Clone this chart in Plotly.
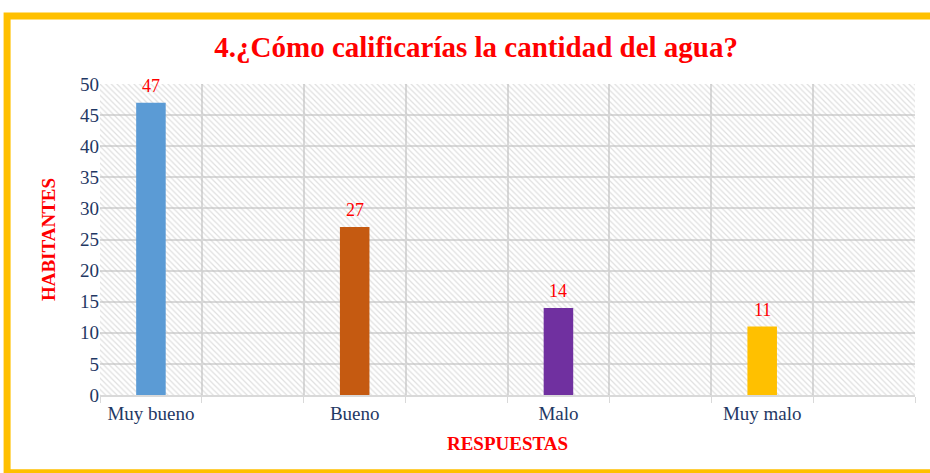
import plotly.graph_objects as go

# Datos de la encuesta
categorias = ["Muy bueno", "Bueno", "Malo", "Muy malo"]
habitantes = [47, 27, 14, 11]
colores = ["#5b9bd5", "#c55a11", "#7030a0", "#ffc000"]
y_ticks = [0, 5, 10, 15, 20, 25, 30, 35, 40, 45, 50]

Y_MAX = 50
SERIF = "Liberation Serif, Times New Roman, serif"

# cada respuesta ocupa un hueco, seguido de un hueco vacio (como en Excel)
slots, vals, cols = [], [], []
for i, (c, v, col) in enumerate(zip(categorias, habitantes, colores)):
    slots += [c, " " * (i + 1)]
    vals += [v, None]
    cols += [col, "rgba(0,0,0,0)"]

fig = go.Figure()

# fondo rayado del area de trazado
fig.add_trace(go.Bar(
    x=slots, y=[Y_MAX] * len(slots), width=1,
    marker=dict(color="rgba(0,0,0,0)", line_width=0,
                pattern=dict(shape="\\", fgcolor="#c0c0c0", bgcolor="rgba(0,0,0,0)",
                             size=4, solidity=0.3)),
    hoverinfo="skip", showlegend=False,
))

fig.add_trace(go.Bar(
    x=slots, y=vals, width=0.29,
    marker=dict(color=cols, line_width=0),
    showlegend=False,
))

# etiquetas de datos
for c, v in zip(categorias, habitantes):
    fig.add_annotation(x=c, y=v, text=str(v), showarrow=False,
                       yanchor="bottom", yshift=5,
                       font=dict(family=SERIF, size=18, color="#ff0000"))

fig.update_layout(
    barmode="overlay",
    width=930, height=473,
    margin=dict(l=100, r=15, t=84, b=78),
    paper_bgcolor="white", plot_bgcolor="white",
    title=dict(text="<b>4.¿Cómo calificarías la cantidad del agua?</b>",
               x=0.512, xref="container", y=0.9, yref="container", yanchor="middle",
               font=dict(family=SERIF, size=29, color="#ff0000")),
    font=dict(family=SERIF),
)

fig.update_xaxes(
    type="category", tickson="boundaries", ticks="outside", ticklen=6,
    tickcolor="#d9d9d9", showgrid=True, gridcolor="#d9d9d9", gridwidth=1.5,
    showline=True, linecolor="#d9d9d9", linewidth=1.5,
    tickfont=dict(family=SERIF, size=19, color="#1f3864"),
    title=dict(text="<b>RESPUESTAS</b>", standoff=14,
               font=dict(family=SERIF, size=19, color="#ff0000")),
)
fig.update_yaxes(
    range=[0, Y_MAX], tickvals=y_ticks, showgrid=True, gridcolor="#d9d9d9", gridwidth=1.5,
    zeroline=False, showline=False, ticks="",
    tickfont=dict(family=SERIF, size=19, color="#1f3864"),
    title=dict(text="<b>HABITANTES</b>", standoff=19,
               font=dict(family=SERIF, size=19, color="#ff0000")),
)

# marco amarillo
fig.add_shape(type="rect", xref="paper", yref="paper",
              x0=-0.114, x1=1.04, y0=-0.25, y1=1.2186,
              line=dict(color="#ffc000", width=7), layer="below")

fig.write_html("out.html", config={"displayModeBar": False},
               post_script="document.body.style.margin='0';")
